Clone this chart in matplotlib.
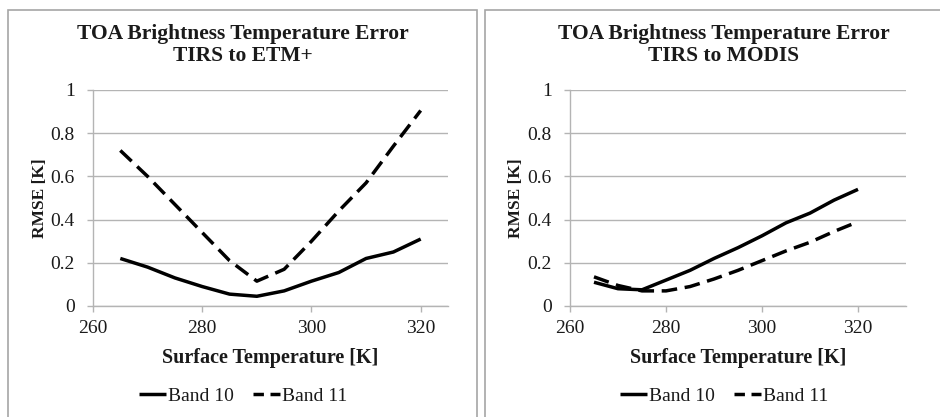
import matplotlib
matplotlib.use("Agg")
import matplotlib.pyplot as plt
from matplotlib.patches import Rectangle
from matplotlib.lines import Line2D

temps = [265, 270, 275, 280, 285, 290, 295, 300, 305, 310, 315, 320]
etm_band10 = [0.22, 0.18, 0.13, 0.09, 0.055, 0.045, 0.07, 0.115, 0.155, 0.22, 0.25, 0.31]
etm_band11 = [0.72, 0.60, 0.47, 0.34, 0.21, 0.115, 0.17, 0.30, 0.44, 0.57, 0.74, 0.905]
modis_band10 = [0.11, 0.08, 0.075, 0.12, 0.165, 0.22, 0.27, 0.325, 0.385, 0.43, 0.49, 0.54]
modis_band11 = [0.135, 0.095, 0.07, 0.07, 0.09, 0.125, 0.165, 0.21, 0.255, 0.295, 0.345, 0.39]
titles = ["TOA Brightness Temperature Error\nTIRS to ETM+",
          "TOA Brightness Temperature Error\nTIRS to MODIS"]
series_names = ["Band 10", "Band 11"]
xticks = [260, 280, 300, 320]
yticks = [0, 0.2, 0.4, 0.6, 0.8, 1]
ytick_labels = ["0", "0.2", "0.4", "0.6", "0.8", "1"]

plt.rcParams['font.family'] = ['Liberation Serif', 'DejaVu Serif']

W, H = 940, 417
fig = plt.figure(figsize=(9.4, 4.17), dpi=100)
fig.patch.set_facecolor('white')

def fx(px):
    return px / W

def fy(py):
    return 1 - py / H

# panel borders
for (x0, x1) in [(8, 477), (485, 965)]:
    fig.patches.append(Rectangle((fx(x0), fy(425)), fx(x1) - fx(x0), fy(10) - fy(425),
                                 transform=fig.transFigure, fill=False,
                                 edgecolor='#a6a6a6', linewidth=1.2))

panels = [
    dict(ax=(93, 448), xlim=(260, 325), b10=etm_band10, b11=etm_band11, title=titles[0],
         ylab_x=40, cx=243),
    dict(ax=(570, 906), xlim=(260, 330), b10=modis_band10, b11=modis_band11, title=titles[1],
         ylab_x=516, cx=724),
]

grid_c = '#b4b4b4'
txt_c = '#1a1a1a'
LW = 2.5
for p in panels:
    x0, x1 = p['ax']
    ax = fig.add_axes([fx(x0), fy(306), fx(x1) - fx(x0), fy(90) - fy(306)])
    ax.plot(temps, p['b10'], color='black', linewidth=LW, solid_capstyle='butt',
            solid_joinstyle='round')
    ax.plot(temps, p['b11'], color='black', linewidth=LW, dashes=(4.5, 2.2))
    ax.set_xlim(*p['xlim'])
    ax.set_ylim(0, 1)
    ax.set_xticks(xticks)
    ax.set_xticklabels([str(t) for t in xticks], fontsize=14)
    ax.set_yticks(yticks)
    ax.set_yticklabels(ytick_labels, fontsize=14)
    ax.grid(axis='y', color=grid_c, linewidth=1.0)
    ax.set_axisbelow(True)
    for s in ['top', 'right']:
        ax.spines[s].set_visible(False)
    for s in ['left', 'bottom']:
        ax.spines[s].set_color(grid_c)
        ax.spines[s].set_linewidth(1.0)
    ax.tick_params(axis='both', direction='out', length=4, color=grid_c, width=1.0,
                   labelcolor=txt_c)
    ax.tick_params(axis='x', pad=6)
    ax.tick_params(axis='y', pad=9)
    fig.text(fx(p['cx']), fy(45), p['title'], ha='center', va='center', fontsize=15.5,
             fontweight='bold', linespacing=1.15, color=txt_c)
    fig.text(fx(p['ylab_x']), fy(198), 'RMSE [K]', rotation=90, ha='center', va='center',
             fontsize=12.5, fontweight='bold', color=txt_c)
    fig.text(fx((x0 + x1) / 2), fy(358), 'Surface Temperature [K]', ha='center',
             va='center', fontsize=14.5, fontweight='bold', color=txt_c)
    handles = [Line2D([], [], color='black', linewidth=LW, solid_capstyle='butt'),
               Line2D([], [], color='black', linewidth=LW, dashes=(3.0, 1.9))]
    fig.legend(handles=handles, labels=series_names, loc='center',
               bbox_to_anchor=(fx(p['cx']), fy(396)), ncol=2, frameon=False,
               fontsize=14, handlelength=1.4, handletextpad=0.1, columnspacing=1.0,
               labelcolor=txt_c)

fig.savefig('out.png', dpi=100, facecolor='white')
